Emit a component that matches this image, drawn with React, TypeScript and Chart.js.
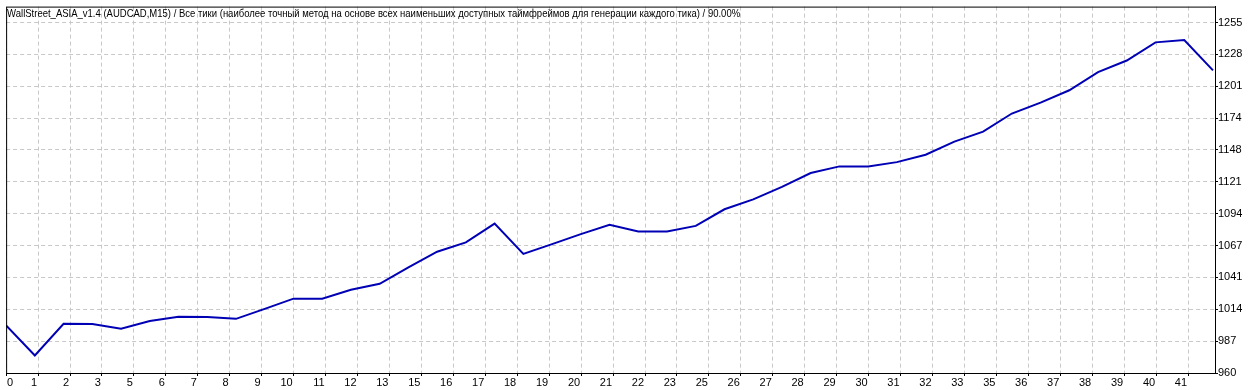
import React, { useEffect, useRef } from 'react';
import { Chart, registerables } from 'chart.js';

Chart.register(...registerables);

const TITLE =
  'WallStreet_ASIA_v1.4 (AUDCAD,M15) / Все тики (наиболее точный метод на основе всех наименьших доступных таймфреймов для генерации каждого тика) / 90.00%';

// balance after each trade (trade 0 = initial deposit)
const balance = [
  1000, 974.7, 1001.4, 1001.2, 997.2, 1003.7, 1007.3, 1007.2, 1005.6, 1014.0,
  1022.6, 1022.6, 1030.0, 1035.1, 1049.0, 1062.1, 1069.9, 1085.7, 1060.2, 1068.5,
  1076.9, 1084.7, 1079.1, 1079.1, 1083.8, 1097.8, 1106.1, 1116.6, 1128.3, 1133.9,
  1133.9, 1137.5, 1143.7, 1154.8, 1163.1, 1178.4, 1187.6, 1198.0, 1213.2, 1223.0,
  1238.3, 1240.2, 1214.7,
];

const xTickLabels = [
  '0', '1', '2', '3', '5', '6', '7', '8', '9', '10', '11', '12', '13', '15', '16', '17', '18', '19', '20',
  '21', '22', '23', '25', '26', '27', '28', '29', '30', '31', '32', '33', '35', '36', '37', '38', '39', '40', '41',
];

const yTickLabels = ['960', '987', '1014', '1041', '1067', '1094', '1121', '1148', '1174', '1201', '1228', '1255'];

const Y_MIN = 960;
const Y_TICK_TOP = 1255;
const Y_MAX = 1268.4;
const X_MAX = 42.07;
const X_GRID_STEP = 1.1117;

const FONT_FAMILY = '"Liberation Sans", Arial, sans-serif';
const LINE_COLOR = '#0000b4';
const GRID_COLOR = '#c8c8c8';
const TITLE_WIDTH = 733;

const framePlugin = {
  id: 'mtFrame',
  beforeDraw(chart: any) {
    const xs = chart.scales.x;
    const items = xs.getLabelItems(chart.chartArea);
    if (items && items[0]) {
      items[0].options.textAlign = 'left';
      items[0].options.translation[0] = chart.chartArea.left + 1;
    }
  },
  afterDraw(chart: any) {
    const { ctx, chartArea: a } = chart;
    ctx.save();
    ctx.strokeStyle = '#000';
    ctx.lineWidth = 1;
    ctx.setLineDash([]);
    ctx.strokeRect(a.left + 0.5, a.top + 0.5, a.right - a.left, a.bottom - a.top);
    ctx.fillStyle = '#000';
    ctx.font = `11px ${FONT_FAMILY}`;
    ctx.textBaseline = 'alphabetic';
    ctx.textAlign = 'left';
    ctx.fillText(TITLE, a.left + 1, 17, TITLE_WIDTH);
    ctx.restore();
  },
};

export default function App() {
  const ref = useRef<HTMLCanvasElement | null>(null);

  useEffect(() => {
    document.body.style.margin = '0';
    const canvas = ref.current;
    if (!canvas) return;
    const chart = new Chart(canvas, {
      type: 'line',
      data: {
        datasets: [
          {
            data: balance.map((v, i) => ({ x: i, y: v })),
            borderColor: LINE_COLOR,
            borderWidth: 2,
            pointRadius: 0,
            tension: 0,
            fill: false,
          },
        ],
      },
      options: {
        animation: false,
        responsive: false,
        events: [],
        layout: { padding: { left: 4, top: 4, right: 0, bottom: 0 } },
        plugins: {
          legend: { display: false },
          tooltip: { enabled: false },
          title: { display: false },
        },
        scales: {
          x: {
            type: 'linear',
            position: 'bottom',
            min: 0,
            max: X_MAX,
            afterBuildTicks: (s: any) => {
              s.ticks = xTickLabels.map((_, i) => ({ value: i * X_GRID_STEP }));
            },
            afterFit: (s: any) => {
              s.height = 17;
            },
            ticks: {
              autoSkip: false,
              maxRotation: 0,
              minRotation: 0,
              align: 'end',
              labelOffset: -1,
              padding: 0,
              color: '#000',
              font: { family: FONT_FAMILY, size: 11 },
              callback: (_v: any, i: number) => xTickLabels[i],
            },
            grid: {
              color: GRID_COLOR,
              lineWidth: 1,
              drawTicks: true,
              tickLength: 3,
              tickColor: '#000',
              tickBorderDash: [],
            },
            border: { display: true, color: '#000', width: 1, dash: [4, 3] },
          },
          y: {
            type: 'linear',
            position: 'right',
            min: Y_MIN,
            max: Y_MAX,
            afterBuildTicks: (s: any) => {
              const step = (Y_TICK_TOP - Y_MIN) / (yTickLabels.length - 1);
              s.ticks = yTickLabels.map((_, i) => ({ value: Y_MIN + i * step }));
            },
            afterFit: (s: any) => {
              s.width = 45;
            },
            ticks: {
              autoSkip: false,
              padding: 0,
              color: '#000',
              font: { family: FONT_FAMILY, size: 11 },
              callback: (_v: any, i: number) => yTickLabels[i],
            },
            grid: {
              color: GRID_COLOR,
              lineWidth: 1,
              drawTicks: true,
              tickLength: 3,
              tickColor: '#000',
              tickBorderDash: [],
            },
            border: { display: true, color: '#000', width: 1, dash: [4, 3] },
          },
        },
      },
      plugins: [framePlugin],
    });
    return () => chart.destroy();
  }, []);

  return (
    <div style={{ position: 'absolute', left: 0, top: 0, width: 1260, height: 390, background: '#fff' }}>
      <canvas ref={ref} width={1260} height={390} style={{ display: 'block' }} />
    </div>
  );
}
